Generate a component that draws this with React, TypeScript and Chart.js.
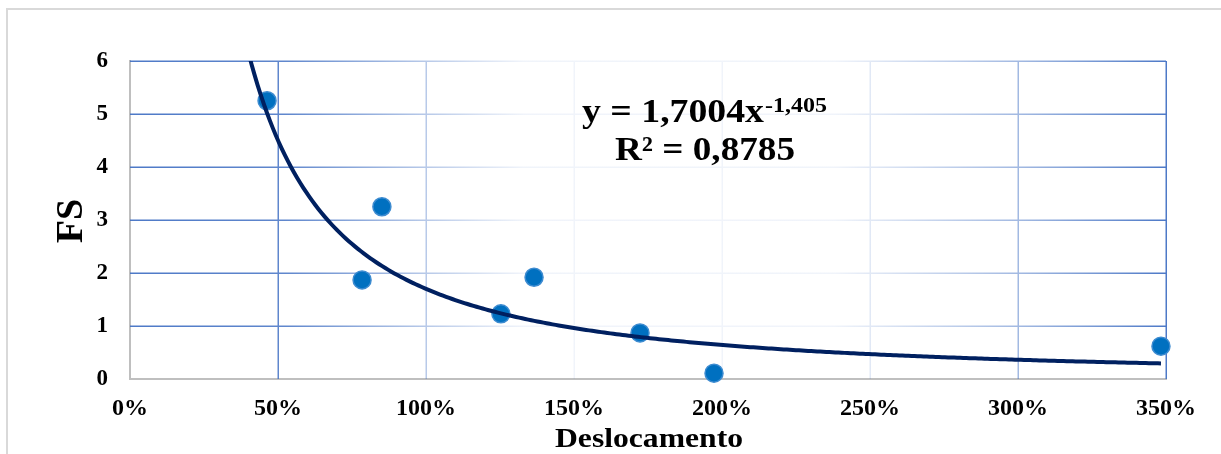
import React, { useEffect, useRef } from 'react';
import { Chart, registerables } from 'chart.js';

Chart.register(...registerables);

// ---- Data ----
const displacement = [0.463, 0.784, 0.851, 1.253, 1.365, 1.723, 1.973, 3.483];
const fsValues = [5.25, 1.87, 3.25, 1.23, 1.92, 0.87, 0.11, 0.62];
const xTickValues = [0, 0.5, 1, 1.5, 2, 2.5, 3, 3.5];
const yTickValues = [0, 1, 2, 3, 4, 5, 6];
// Power trendline shown on the chart: y = 1,7004 x^-1,405
const trendCoef = 1.7004;
const trendExp = -1.405;
const trendStart = 0.4;
const trendEnd = 3.483;
const equationText = 'y = 1,7004x';
const equationSup = '-1,405';
const r2Text = 'R² = 0,8785';
const xTitle = 'Deslocamento';
const yTitle = 'FS';

const SERIF = "'Liberation Serif', 'Times New Roman', Times, serif";

function buildTrend() {
  const pts: { x: number; y: number }[] = [];
  const n = 300;
  for (let i = 0; i <= n; i++) {
    const x = trendStart + ((trendEnd - trendStart) * i) / n;
    pts.push({ x, y: trendCoef * Math.pow(x, trendExp) });
  }
  return pts;
}

function makeGridGradient(ctx: CanvasRenderingContext2D, left: number, right: number) {
  const g = ctx.createLinearGradient(left, 0, right, 0);
  g.addColorStop(0, 'rgba(68,114,196,0.95)');
  g.addColorStop(0.15, 'rgba(68,114,196,0.85)');
  g.addColorStop(0.28, 'rgba(68,114,196,0.4)');
  g.addColorStop(0.38, 'rgba(68,114,196,0.08)');
  g.addColorStop(0.68, 'rgba(68,114,196,0.08)');
  g.addColorStop(0.86, 'rgba(68,114,196,0.5)');
  g.addColorStop(1, 'rgba(68,114,196,0.95)');
  return g;
}

function drawStretched(ctx: CanvasRenderingContext2D, text: string, x: number, baseline: number, size: number, width: number) {
  ctx.save();
  ctx.font = `bold ${size}px ${SERIF}`;
  ctx.textAlign = 'left';
  ctx.textBaseline = 'alphabetic';
  const w = ctx.measureText(text).width;
  ctx.translate(x, baseline);
  ctx.scale(width / w, 1);
  ctx.fillStyle = '#000';
  ctx.fillText(text, 0, 0);
  ctx.restore();
}

const decorPlugin = {
  id: 'decor',
  beforeDraw(chart: any) {
    const ctx = chart.ctx as CanvasRenderingContext2D;
    ctx.save();
    ctx.fillStyle = '#ffffff';
    ctx.fillRect(0, 0, chart.width, chart.height);
    ctx.strokeStyle = '#d9d9d9';
    ctx.lineWidth = 2;
    ctx.strokeRect(7, 9, chart.width + 20, chart.height + 20);
    ctx.restore();
  },
  beforeDatasetsDraw(chart: any) {
    const ctx = chart.ctx as CanvasRenderingContext2D;
    const { left, right, top, bottom } = chart.chartArea;
    const xs = chart.scales.x;
    const ys = chart.scales.y;
    ctx.save();
    ctx.strokeStyle = makeGridGradient(ctx, left, right);
    ctx.lineWidth = 1.5;
    ctx.beginPath();
    xTickValues.forEach((v, i) => {
      if (i === 0) return;
      const px = Math.round(xs.getPixelForValue(v)) + 0.25;
      ctx.moveTo(px, top);
      ctx.lineTo(px, bottom);
    });
    yTickValues.forEach((v, i) => {
      if (i === 0) return;
      const py = Math.round(ys.getPixelForValue(v)) + 0.25;
      ctx.moveTo(left, py);
      ctx.lineTo(right, py);
    });
    ctx.stroke();
    ctx.restore();
  },
  afterDraw(chart: any) {
    const ctx = chart.ctx as CanvasRenderingContext2D;
    // Y title
    ctx.save();
    ctx.font = `bold 38px ${SERIF}`;
    ctx.fillStyle = '#000';
    ctx.textAlign = 'center';
    ctx.textBaseline = 'alphabetic';
    ctx.translate(82, 221);
    ctx.rotate(-Math.PI / 2);
    ctx.fillText(yTitle, 0, 0);
    ctx.restore();
    // X title
    drawStretched(ctx, xTitle, 555, 447, 28, 188);
    // Equation
    drawStretched(ctx, equationText, 582, 122, 33, 182);
    drawStretched(ctx, equationSup, 765, 112, 20, 62);
    drawStretched(ctx, r2Text, 615, 160, 33, 180);
  },
};

export default function App() {
  const ref = useRef<HTMLCanvasElement | null>(null);

  useEffect(() => {
    if (!ref.current) return;
    const chart = new Chart(ref.current, {
      type: 'scatter',
      data: {
        datasets: [
          {
            label: 'Tendência',
            data: buildTrend(),
            showLine: true,
            borderColor: '#002060',
            borderWidth: 4,
            pointRadius: 0,
            pointHoverRadius: 0,
            tension: 0,
            order: 0,
            clip: 0,
          } as any,
          {
            label: 'FS',
            data: displacement.map((x, i) => ({ x, y: fsValues[i] })),
            backgroundColor: '#0070c0',
            borderColor: '#3d8bd0',
            borderWidth: 1.5,
            pointRadius: 9,
            order: 1,
            clip: false,
          } as any,
        ],
      },
      options: {
        animation: false,
        responsive: false,
        maintainAspectRatio: false,
        devicePixelRatio: 1,
        layout: { padding: { top: 61, right: 55, left: 0, bottom: 0 } },
        plugins: { legend: { display: false }, tooltip: { enabled: false } },
        scales: {
          x: {
            type: 'linear',
            min: 0,
            max: 3.5,
            afterBuildTicks: (s: any) => {
              s.ticks = xTickValues.map((v) => ({ value: v }));
            },
            afterFit: (s: any) => {
              s.height = 75;
            },
            ticks: {
              padding: 15,
              color: '#000',
              maxRotation: 0,
              font: { family: SERIF, size: 24, weight: 'bold' },
              callback: (v: any) => Math.round(Number(v) * 100) + '%',
            },
            grid: { display: false, drawTicks: false },
            border: { display: true, color: '#bfbfbf', width: 2 },
          },
          y: {
            type: 'linear',
            min: 0,
            max: 6,
            afterBuildTicks: (s: any) => {
              s.ticks = yTickValues.map((v) => ({ value: v }));
            },
            afterFit: (s: any) => {
              s.width = 130;
            },
            ticks: {
              padding: 22,
              color: '#000',
              font: { family: SERIF, size: 23, weight: 'bold' },
            },
            grid: { display: false, drawTicks: false },
            border: { display: true, color: '#bfbfbf', width: 2 },
          },
        },
      },
      plugins: [decorPlugin],
    });
    return () => chart.destroy();
  }, []);

  return (
    <div style={{ position: 'absolute', left: 0, top: 0, width: 1221, height: 454 }}>
      <canvas ref={ref} width={1221} height={454} style={{ display: 'block' }} />
    </div>
  );
}
